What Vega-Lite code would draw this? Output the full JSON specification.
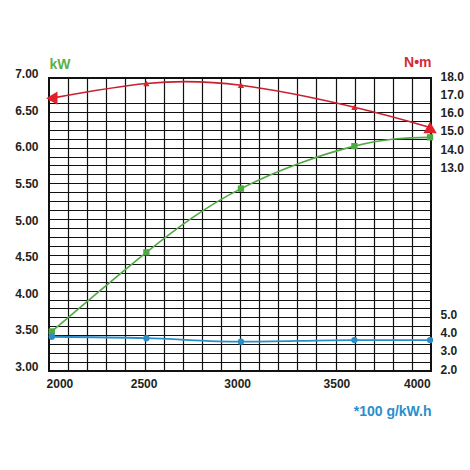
{
  "$schema": "https://vega.github.io/schema/vega-lite/v6.json",
  "description": "Engine performance curves: power, torque and fuel consumption against speed.",
  "background": "white",
  "autosize": {"type": "none"},
  "padding": {"left": 49, "top": 78, "right": 39, "bottom": 99},
  "width": 382,
  "height": 293,
  "data": {
    "values": [
      {"rpm": 2000, "power_kw": 3.54, "torque_nm": 16.9, "bsfc": 3.87},
      {"rpm": 2500, "power_kw": 4.62, "torque_nm": 17.7, "bsfc": 3.79},
      {"rpm": 3000, "power_kw": 5.49, "torque_nm": 17.6, "bsfc": 3.6},
      {"rpm": 3600, "power_kw": 6.07, "torque_nm": 16.4, "bsfc": 3.69},
      {"rpm": 4000, "power_kw": 6.19, "torque_nm": 15.3, "bsfc": 3.69}
    ]
  },
  "layer": [
    {
      "mark": {"type": "line", "color": "#52a845", "strokeWidth": 1.6, "interpolate": "natural"},
      "encoding": {
        "x": {
          "field": "rpm", "type": "quantitative",
          "scale": {"domain": [1985, 4005], "nice": false, "zero": false},
          "axis": {
            "orient": "bottom", "labels": false, "grid": true, "title": null,
            "values": [2086, 2187, 2288, 2389, 2490, 2591, 2692, 2793, 2894, 2995, 3096, 3197, 3298, 3399, 3500, 3601, 3702, 3803, 3904]
          }
        },
        "y": {
          "field": "power_kw", "type": "quantitative",
          "scale": {"domain": [3, 7], "nice": false, "zero": false},
          "axis": {
            "orient": "left", "labels": false, "grid": true, "title": null,
            "values": [3.122, 3.244, 3.366, 3.488, 3.61, 3.732, 3.854, 3.976, 4.098, 4.22, 4.342, 4.464, 4.586, 4.708, 4.83, 4.952, 5.074, 5.196, 5.318, 5.44, 5.562, 5.684, 5.806, 5.928, 6.05, 6.172, 6.294, 6.416, 6.538, 6.66]
          }
        }
      }
    },
    {
      "mark": {"type": "square", "color": "#4ea843", "filled": true, "opacity": 1, "size": 40},
      "encoding": {
        "x": {"field": "rpm", "type": "quantitative", "scale": {"domain": [1985, 4005], "nice": false, "zero": false}, "axis": null},
        "y": {
          "field": "power_kw", "type": "quantitative",
          "scale": {"domain": [3, 7], "nice": false, "zero": false},
          "axis": {
            "orient": "left", "grid": false, "values": [3, 3.5, 4, 4.5, 5, 5.5, 6, 6.5, 7], "format": ".2f",
            "labelPadding": 11, "labelOffset": -4.5,
            "title": "kW", "titleColor": "#5cb048", "titleAngle": 0, "titleAlign": "left",
            "titleBaseline": "alphabetic", "titleX": 0, "titleY": -10
          }
        }
      }
    },
    {
      "mark": {
        "type": "line", "color": "#c8202f", "strokeWidth": 1.6, "interpolate": "natural",
        "point": {"shape": "triangle-up", "filled": true, "size": 40, "color": "#e3202a", "opacity": 1}
      },
      "encoding": {
        "x": {
          "field": "rpm", "type": "quantitative",
          "scale": {"domain": [1985, 4005], "nice": false, "zero": false},
          "axis": {
            "orient": "bottom", "grid": false, "title": null, "labelPadding": 7,
            "values": [2040, 2485, 2980, 3505, 3930],
            "labelExpr": "format(round(datum.value / 500) * 500, 'd')"
          }
        },
        "y": {
          "field": "torque_nm", "type": "quantitative",
          "scale": {"domain": [2, 18], "nice": false, "zero": false},
          "axis": {
            "orient": "right", "grid": false, "values": [13, 14, 15, 16, 17, 18], "format": ".1f",
            "labelPadding": 9, "labelOffset": -2,
            "title": "N•m", "titleColor": "#d42a35", "titleAngle": 0, "titleAlign": "right",
            "titleBaseline": "alphabetic", "titleX": 0, "titleY": -12
          }
        }
      }
    },
    {
      "transform": [{"filter": "datum.rpm == 2000"}],
      "mark": {"type": "point", "shape": "triangle-left", "filled": true, "size": 170, "color": "#e3202a", "opacity": 1},
      "encoding": {
        "x": {"field": "rpm", "type": "quantitative", "scale": {"domain": [1985, 4005], "nice": false, "zero": false}, "axis": null},
        "y": {"field": "torque_nm", "type": "quantitative", "scale": {"domain": [2, 18], "nice": false, "zero": false}, "axis": null}
      }
    },
    {
      "transform": [{"filter": "datum.rpm == 4000"}],
      "mark": {"type": "point", "shape": "triangle-up", "filled": true, "size": 180, "color": "#e3202a", "opacity": 1},
      "encoding": {
        "x": {"field": "rpm", "type": "quantitative", "scale": {"domain": [1985, 4005], "nice": false, "zero": false}, "axis": null},
        "y": {"field": "torque_nm", "type": "quantitative", "scale": {"domain": [2, 18], "nice": false, "zero": false}, "axis": null}
      }
    },
    {
      "mark": {
        "type": "line", "color": "#2b8dc8", "strokeWidth": 1.8, "interpolate": "monotone",
        "point": {"shape": "circle", "filled": true, "size": 40, "color": "#2b8dc8", "opacity": 1}
      },
      "encoding": {
        "x": {"field": "rpm", "type": "quantitative", "scale": {"domain": [1985, 4005], "nice": false, "zero": false}, "axis": null},
        "y": {
          "field": "bsfc", "type": "quantitative",
          "scale": {"domain": [2, 18], "nice": false, "zero": false},
          "axis": {
            "orient": "right", "grid": false, "values": [2, 3, 4, 5], "format": ".1f",
            "labelPadding": 9, "labelOffset": -2,
            "title": "*100 g/kW.h", "titleColor": "#2a8ecb", "titleAngle": 0, "titleAlign": "right",
            "titleBaseline": "alphabetic", "titleX": 0, "titleY": 337
          }
        }
      }
    }
  ],
  "resolve": {
    "scale": {"y": "independent"},
    "axis": {"x": "independent", "y": "independent"}
  },
  "config": {
    "view": {"stroke": "#111111", "strokeWidth": 2},
    "axis": {
      "labelFont": "Liberation Sans, Arial, sans-serif",
      "labelFontWeight": "bold",
      "labelFontSize": 12,
      "labelColor": "#231f20",
      "titleFont": "Liberation Sans, Arial, sans-serif",
      "titleFontWeight": "bold",
      "titleFontSize": 14,
      "gridColor": "#111111",
      "gridOpacity": 1,
      "gridWidth": 1.2,
      "ticks": false,
      "tickSize": 0,
      "domain": false,
      "labelFlush": false,
      "labelOverlap": false
    }
  }
}
